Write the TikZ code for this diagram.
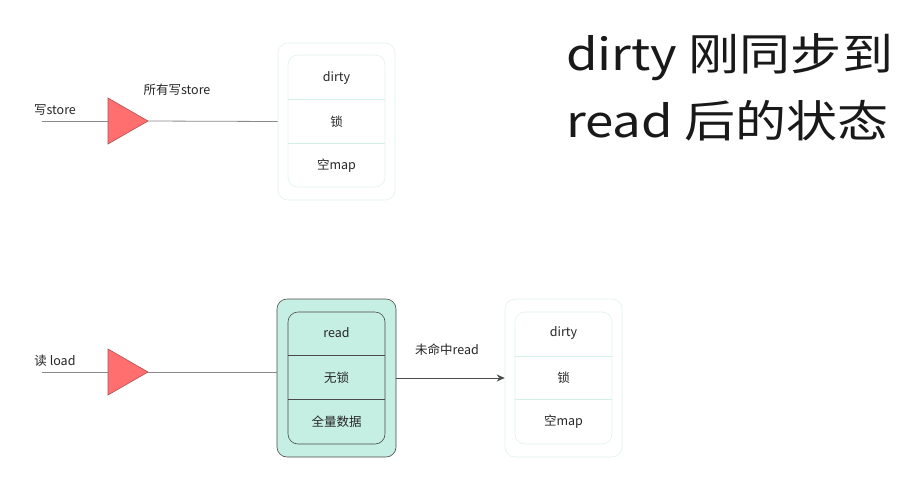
\documentclass[tikz,border=0pt]{standalone}
\usepackage{fontspec}
\setmainfont{Noto Sans CJK SC}
\newfontfamily\titlefont[FakeStretch=1.16]{Noto Sans CJK SC}
\usetikzlibrary{arrows.meta}
\begin{document}
\begin{tikzpicture}[x=1pt,y=-1pt,
  lbl/.style={inner sep=0pt,font=\fontsize{12.5}{14}\selectfont,text=black!85},
  outerbox/.style={draw=#1,rounded corners=10pt,line width=0.6pt,inner sep=0pt},
  innerbox/.style={draw=#1,rounded corners=10pt,line width=0.6pt,inner sep=0pt},
  divider/.style={draw=#1,line width=0.6pt},
  tri/.style={fill=triRed,draw=triEdge,line width=0.6pt},
  wire/.style={draw=wireGray,line width=0.8pt},
  title/.style={inner sep=0pt,anchor=base west,font=\titlefont\fontsize{44}{50}\selectfont,text=black!90}]
\definecolor{triRed}{HTML}{FF6F6F}
\definecolor{triEdge}{HTML}{B05050}
\definecolor{wireGray}{HTML}{8A8A8A}
\definecolor{faint}{HTML}{E2F1EE}
\definecolor{faintdiv}{HTML}{D4EEEA}
\definecolor{mint}{HTML}{C6EFE4}
\definecolor{darkedge}{HTML}{4A4A4A}
\useasboundingbox[fill=white] (0,0) rectangle (917,488);

% title
\node[title] (t1) at (566,70) {dirty 刚同步到};
\node[title] (t2) at (566,137) {read 后的状态};

% ---------- top: write path ----------
\coordinate (ws) at (42,121);
\coordinate (w1w) at (108,121);
\coordinate (w1e) at (148,121);
\draw[tri] (108,98) -- (148,121) -- (108,144) -- cycle;
\node[outerbox=faint,minimum width=117pt,minimum height=157pt] (dtop) at (336.5,121.5) {};
\node[innerbox=faint,minimum width=97pt,minimum height=132pt] (dtopin) at (336.5,121) {};
\draw[divider=faintdiv] (dtopin.west |- 0,99) -- (dtopin.east |- 0,99);
\draw[divider=faintdiv] (dtopin.west |- 0,143) -- (dtopin.east |- 0,143);
\node[lbl] (d1) at (336.5,78) {dirty};
\node[lbl] (d2) at (336.5,122) {锁};
\node[lbl] (d3) at (336.5,166) {空map};
\draw[wire] (ws) -- (w1w);
\draw[wire] (w1e) -- (dtop.west);
\node[lbl] (wl) at (55,110) {写store};
\node[lbl] (wl2) at (177,90) {所有写store};

% ---------- bottom: read path ----------
\coordinate (rs) at (42,372);
\coordinate (r1w) at (108,372);
\coordinate (r1e) at (148,372);
\draw[tri] (108,349) -- (148,372) -- (108,395) -- cycle;
\node[outerbox=darkedge,fill=mint,minimum width=119pt,minimum height=158pt] (rd) at (336.5,378) {};
\node[innerbox=darkedge,minimum width=97pt,minimum height=132pt] (rdin) at (336.5,378) {};
\draw[divider=darkedge] (rdin.west |- 0,355) -- (rdin.east |- 0,355);
\draw[divider=darkedge] (rdin.west |- 0,399) -- (rdin.east |- 0,399);
\node[lbl] (r1) at (336.5,333) {read};
\node[lbl] (r2) at (336.5,378) {无锁};
\node[lbl] (r3) at (336.5,422) {全量数据};
\draw[wire] (rs) -- (r1w);
\draw[wire] (r1e) -- (rd.west |- r1e);
\node[lbl] (rl) at (55,361) {读 load};

% right dirty box
\node[outerbox=faint,minimum width=117pt,minimum height=158pt] (dbot) at (563.5,378) {};
\node[innerbox=faint,minimum width=97pt,minimum height=132pt] (dbotin) at (563.5,378) {};
\draw[divider=faintdiv] (dbotin.west |- 0,356) -- (dbotin.east |- 0,356);
\draw[divider=faintdiv] (dbotin.west |- 0,399) -- (dbotin.east |- 0,399);
\node[lbl] (e1) at (563.5,333) {dirty};
\node[lbl] (e2) at (563.5,378) {锁};
\node[lbl] (e3) at (563.5,422) {空map};

\draw[wire,-{Stealth[length=8pt,width=7pt]},draw=black!70] (rd.east) -- (dbot.west);
\node[lbl] (ml) at (447,350) {未命中read};
\end{tikzpicture}
\end{document}
